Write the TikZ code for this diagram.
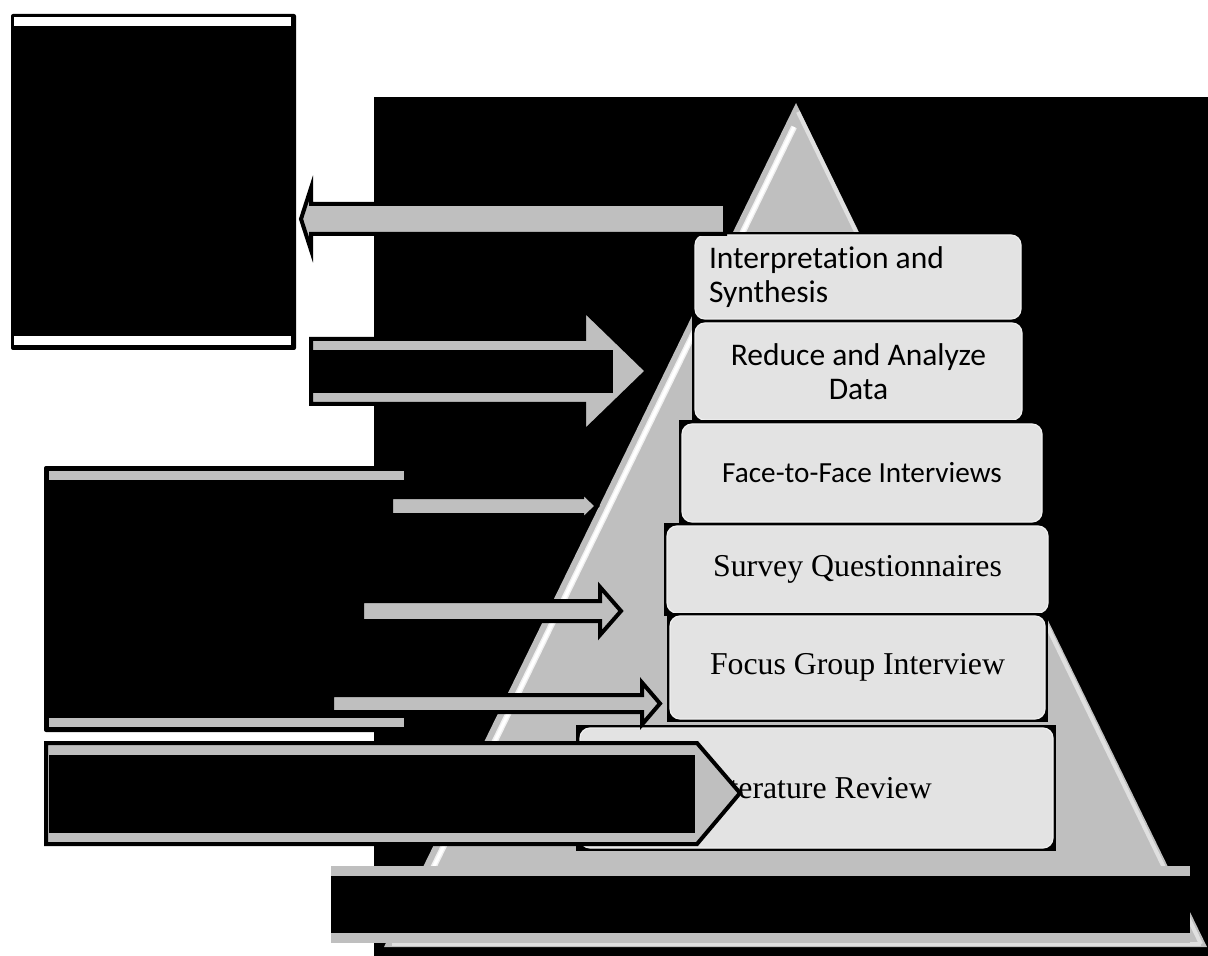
\documentclass[tikz,border=0pt]{standalone}
\usepackage{fontspec}
\newfontfamily\sansbox{Carlito}[Ligatures=NoCommon]
\newfontfamily\serifbox{Liberation Serif}
\colorlet{T0}{black!25}
\colorlet{T1}{black!11}
\colorlet{T2}{black!6}
\tikzset{
  stage/.style     ={draw=T2, fill=T1, rounded corners=5pt, inner sep=0pt,
                     line width=0.6pt, align=center, text=black},
  stage-sans/.style={stage, font=\sansbox\fontsize{15.75}{17}\selectfont},
  stage-ser/.style ={stage, font=\serifbox\fontsize{15.9}{18}\selectfont},
  blockarrow/.style={fill=T0, draw=black, line width=2pt},
  blank/.style     ={fill=black},
  rim/.style       ={fill=T0},
}

\begin{document}
\begin{tikzpicture}[x=0.5pt, y=-0.5pt]

\useasboundingbox[fill=white] (0,0) rectangle (1208,956);

% Dark backdrop behind the pyramid
\fill[blank] (374,97) rectangle (1208,956);

% Pyramid with its bevel lines
\coordinate (apex)  at (796,103);
\coordinate (baseL) at (384,947);
\coordinate (baseR) at (1207,947);
\fill[T0] (apex) -- (baseL) -- (baseR) -- cycle;
\draw[T2, line width=3pt]     (794,127) -- (398,940);
\draw[white, line width=1.6pt] (794,127) -- (398,940);
\draw[black!12, line width=2pt] (798,112) -- (1201,944);
\draw[black!12, line width=2pt] (392,944) -- (1201,944);

% Stages of the pyramid, each on a dark plate
\fill[blank] (692,232) rectangle (1024,322);
\node[stage-sans, minimum width=163pt, minimum height=42pt,
      text width=149pt, align=flush left] (interp) at (858,277)
  {Interpretation and\\Synthesis};
\fill[blank] (692,320) rectangle (1025,423);
\node[stage-sans, minimum width=163.5pt, minimum height=48.5pt] (reduce)
  at (858.5,371.5) {Reduce and Analyze\\Data};
\fill[blank] (679,420) rectangle (1045,525);
\node[stage-sans, font=\sansbox\fontsize{14.6}{17}\selectfont,
      minimum width=180pt, minimum height=49pt] (f2f)
  at (862,473) {Face-to-Face Interviews};
\fill[blank] (664,523) rectangle (1051,616);
\node[stage-ser, minimum width=190.5pt, minimum height=43.5pt] (survey)
  at (857.5,569.5) {Survey Questionnaires};
\fill[blank] (667,613) rectangle (1048,722);
\node[stage-ser, minimum width=187.5pt, minimum height=51.5pt] (focus)
  at (857.5,667.5) {Focus Group Interview};
\fill[blank] (576,725) rectangle (1056,851);
\node[stage-ser, minimum width=236.5pt, minimum height=60pt] (lit)
  at (816.5,788) {Literature Review};

% Upper left panel and the arrow leading back to it
\fill[blank, rounded corners=1pt] (11,14) rectangle (296,350);
\fill[white] (14,17) rectangle (291,26);
\fill[white] (14,336) rectangle (291,345);
\draw[blockarrow] (725,204) -- (311,204) -- (311,188) -- (301,219)
  -- (311,250) -- (311,234) -- (725,234) -- cycle;

% Wide arrow into the pyramid
\draw[blockarrow] (311,339) -- (584,339) -- (584,310) -- (647,371)
  -- (584,432) -- (584,404) -- (311,404) -- cycle;
\fill[blank] (313,350) rectangle (613,393);

% Middle left panel
\fill[blank, rounded corners=1pt] (44,466) rectangle (408,732);
\fill[rim] (49,471) rectangle (404,480);
\fill[rim] (49,718) rectangle (404,727);

% Three arrows towards the lower stages
\foreach \xs/\xh/\xt/\yc/\sw/\hw in {391/582/597/506/9/14.5,
                                     362/600/621/611/10/24,
                                     332/642/660/703.5/8.5/21}
  \draw[blockarrow] (\xs,\yc-\sw) -- (\xh,\yc-\sw) -- (\xh,\yc-\hw)
    -- (\xt,\yc) -- (\xh,\yc+\hw) -- (\xh,\yc+\sw) -- (\xs,\yc+\sw) -- cycle;

% Pentagon panel over the base stage
\draw[blockarrow] (46,743) -- (697,743) -- (740,793) -- (697,844)
  -- (46,844) -- cycle;
\fill[blank] (49,755) rectangle (695,833);

% Bar along the base
\fill[rim] (331,866) rectangle (1190,943);
\fill[blank] (331,876) rectangle (1190,933);

\end{tikzpicture}
\end{document}
